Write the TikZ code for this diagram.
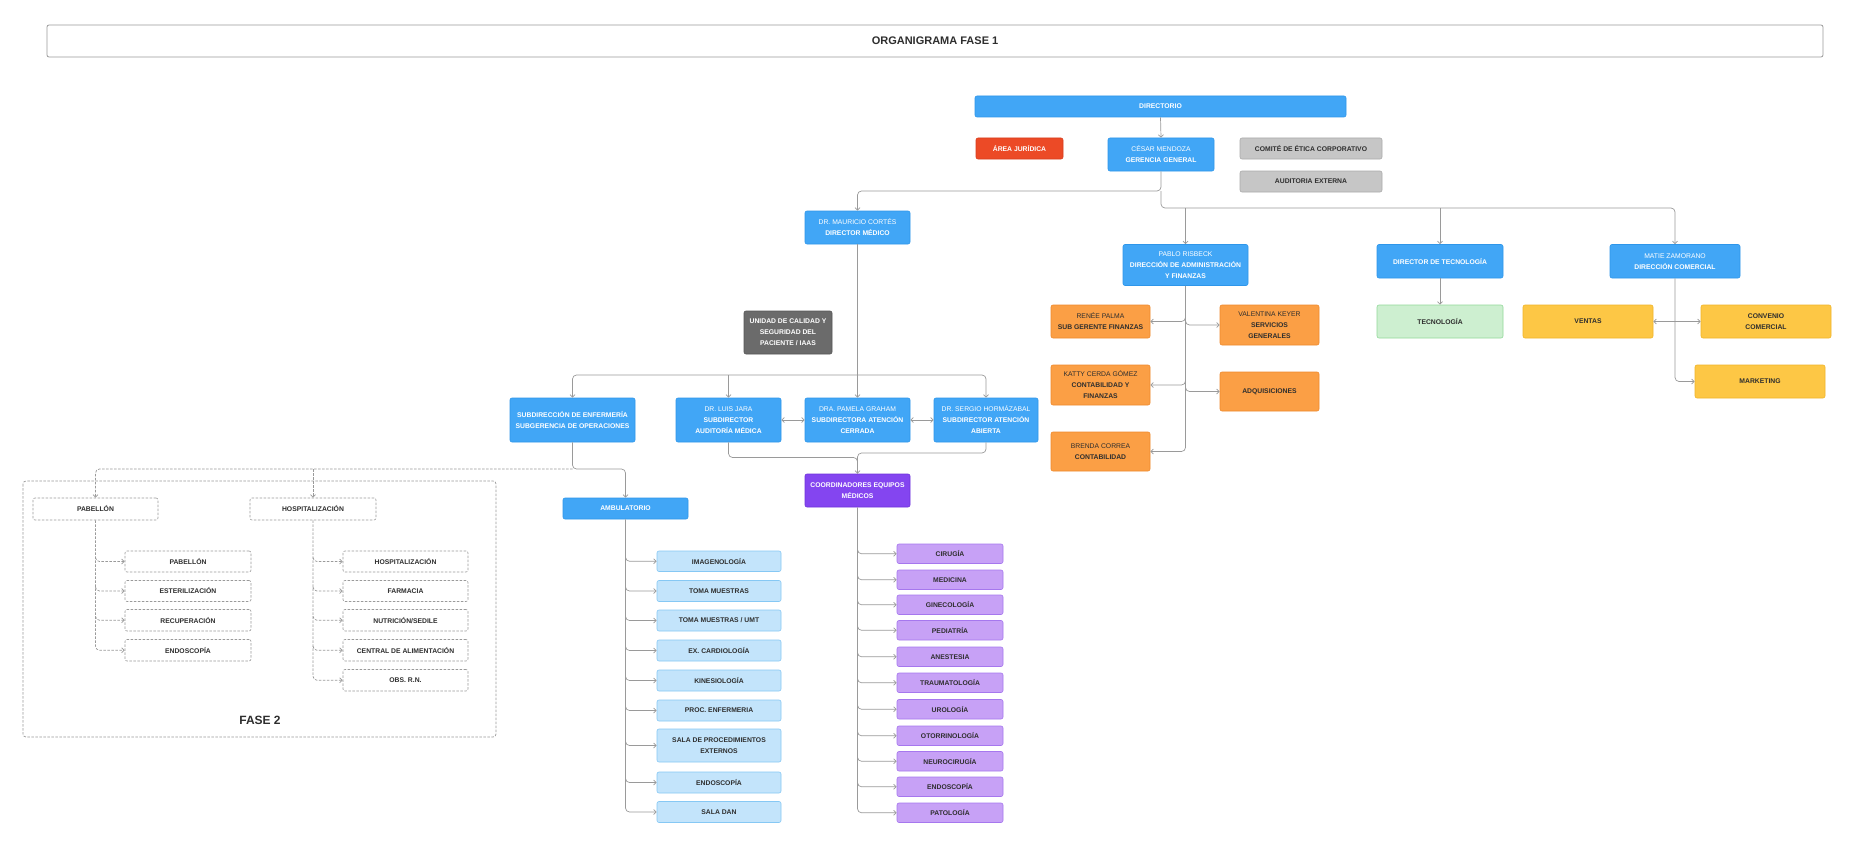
\documentclass[tikz,border=0pt]{standalone}
\usepackage{fontspec}
\setmainfont{Liberation Sans}
\usetikzlibrary{arrows.meta,calc}
\definecolor{bluef}{HTML}{41A6F6}
\definecolor{bluee}{HTML}{2E96EA}
\definecolor{redf}{HTML}{EC4A26}
\definecolor{rede}{HTML}{D83E1E}
\definecolor{grayf}{HTML}{C6C6C6}
\definecolor{graye}{HTML}{ABABAB}
\definecolor{dgrayf}{HTML}{6B6B6B}
\definecolor{dgraye}{HTML}{555555}
\definecolor{orangef}{HTML}{FB9F45}
\definecolor{orangee}{HTML}{EE8A2E}
\definecolor{greenf}{HTML}{CDEFD0}
\definecolor{greene}{HTML}{93D99A}
\definecolor{yellowf}{HTML}{FDC745}
\definecolor{yellowe}{HTML}{F0B52A}
\definecolor{lbluef}{HTML}{C3E4FB}
\definecolor{lbluee}{HTML}{86C8F4}
\definecolor{purplef}{HTML}{8445F0}
\definecolor{purplee}{HTML}{6F33DB}
\definecolor{lpurplef}{HTML}{C7A1F6}
\definecolor{lpurplee}{HTML}{A677EE}
\definecolor{linec}{HTML}{9A9A9A}
\definecolor{darktext}{HTML}{2E2E2E}
\newcommand\bx[7]{%
  \pgfmathsetmacro\bxcx{(#3+#5)/2}\pgfmathsetmacro\bxcy{(#4+#6)/2}%
  \pgfmathsetmacro\bxw{#5-#3}\pgfmathsetmacro\bxh{#6-#4}%
  \node[#1, minimum width=\bxw pt, minimum height=\bxh pt] (#2) at (\bxcx,\bxcy) {#7};}
\begin{document}
\begin{tikzpicture}[x=1pt,y=-1pt,
  >={Straight Barb[length=2.5pt,width=5pt]},
  box/.style={rounded corners=2pt, inner sep=1pt, align=center,
    font=\fontsize{6.8}{11}\selectfont\bfseries, line width=0.6pt},
  bluebox/.style={box, fill=bluef, draw=bluee, text=white},
  redbox/.style={box, fill=redf, draw=rede, text=white},
  graybox/.style={box, fill=grayf, draw=graye, text=darktext},
  dgraybox/.style={box, fill=dgrayf, draw=dgraye, text=white},
  orangebox/.style={box, fill=orangef, draw=orangee, text=darktext},
  greenbox/.style={box, fill=greenf, draw=greene, text=darktext},
  yellowbox/.style={box, fill=yellowf, draw=yellowe, text=darktext},
  lbluebox/.style={box, fill=lbluef, draw=lbluee, text=darktext},
  purplebox/.style={box, fill=purplef, draw=purplee, text=white},
  lpurplebox/.style={box, fill=lpurplef, draw=lpurplee, text=darktext},
  dashbox/.style={box, fill=white, draw=linec, dashed, dash pattern=on 2.5pt off 1.5pt, text=darktext},
  con/.style={draw=linec, line width=0.7pt, rounded corners=4pt, ->},
  dcon/.style={con, dash pattern=on 2.5pt off 1.5pt},
]
\fill[white] (0,0) rectangle (1855,848);
\useasboundingbox (0,0) rectangle (1855,848);

% title
\bx{box, fill=white, draw=linec, line width=0.8pt, font=\fontsize{11}{13}\selectfont\bfseries, text=darktext}{title}{47}{25}{1823}{57}{ORGANIGRAMA FASE 1}

% top level
\bx{bluebox}{dir}{975}{96}{1346}{117}{DIRECTORIO}
\bx{redbox}{jur}{976}{138}{1063}{159}{ÁREA JURÍDICA}
\bx{bluebox}{ger}{1108}{138}{1214}{171}{{\mdseries CÉSAR MENDOZA}\\GERENCIA GENERAL}
\bx{graybox}{etica}{1240}{138}{1382}{159}{COMITÉ DE ÉTICA CORPORATIVO}
\bx{graybox}{audit}{1240}{171}{1382}{192}{AUDITORIA EXTERNA}

\bx{bluebox}{med}{805}{211}{910}{244}{{\mdseries DR. MAURICIO CORTÉS}\\DIRECTOR MÉDICO}
\bx{bluebox}{pablo}{1123}{244.5}{1248}{285.5}{{\mdseries PABLO RISBECK}\\DIRECCIÓN DE ADMINISTRACIÓN\\Y FINANZAS}
\bx{bluebox}{tech}{1377}{244.5}{1503}{278}{DIRECTOR DE TECNOLOGÍA}
\bx{bluebox}{matie}{1610}{244.5}{1740}{278}{{\mdseries MATIE  ZAMORANO}\\DIRECCIÓN COMERCIAL}

\bx{greenbox}{tecno}{1377}{305}{1503}{338}{TECNOLOGÍA}
\bx{yellowbox}{ventas}{1523}{305}{1653}{338}{VENTAS}
\bx{yellowbox}{conv}{1701}{305}{1831}{338}{CONVENIO\\COMERCIAL}
\bx{yellowbox}{mkt}{1695}{365}{1825}{398}{MARKETING}

\bx{orangebox}{renee}{1051}{305}{1150}{338}{{\mdseries RENÉE PALMA}\\SUB GERENTE FINANZAS}
\bx{orangebox}{vale}{1220}{305}{1319}{345}{{\mdseries VALENTINA KEYER}\\SERVICIOS\\GENERALES}
\bx{orangebox}{katty}{1051}{365}{1150}{405}{{\mdseries KATTY CERDA GÓMEZ}\\CONTABILIDAD Y\\FINANZAS}
\bx{orangebox}{adq}{1220}{372}{1319}{411}{ADQUISICIONES}
\bx{orangebox}{brenda}{1051}{432}{1150}{471}{{\mdseries BRENDA CORREA}\\CONTABILIDAD}

% medical area
\bx{dgraybox}{cal}{744}{311}{832}{354}{UNIDAD DE CALIDAD Y\\SEGURIDAD DEL\\PACIENTE / IAAS}
\bx{bluebox}{enf}{510}{398}{635}{442}{SUBDIRECCIÓN DE ENFERMERÍA\\SUBGERENCIA DE OPERACIONES}
\bx{bluebox}{luis}{676}{398}{781}{442}{{\mdseries DR. LUIS JARA}\\SUBDIRECTOR\\AUDITORÍA MÉDICA}
\bx{bluebox}{pamela}{805}{398}{910}{442}{{\mdseries DRA. PAMELA GRAHAM}\\SUBDIRECTORA ATENCIÓN\\CERRADA}
\bx{bluebox}{sergio}{934}{398}{1038}{442}{{\mdseries DR.  SERGIO HORMÁZABAL}\\SUBDIRECTOR ATENCIÓN\\ABIERTA}
\bx{purplebox}{coord}{805}{474}{910}{507}{COORDINADORES EQUIPOS\\MÉDICOS}
\bx{bluebox}{amb}{563}{498}{688}{519}{AMBULATORIO}

% ambulatorio children
\bx{lbluebox}{a1}{657}{551}{781}{571.5}{IMAGENOLOGÍA}
\bx{lbluebox}{a2}{657}{580.5}{781}{601.5}{TOMA MUESTRAS}
\bx{lbluebox}{a3}{657}{610}{781}{631}{TOMA MUESTRAS / UMT}
\bx{lbluebox}{a4}{657}{640}{781}{661}{EX. CARDIOLOGÍA}
\bx{lbluebox}{a5}{657}{670}{781}{691}{KINESIOLOGÍA}
\bx{lbluebox}{a6}{657}{700}{781}{721}{PROC. ENFERMERIA}
\bx{lbluebox}{a7}{657}{729}{781}{762}{SALA DE PROCEDIMIENTOS\\EXTERNOS}
\bx{lbluebox}{a8}{657}{772}{781}{793}{ENDOSCOPÍA}
\bx{lbluebox}{a9}{657}{801.5}{781}{822.5}{SALA DAN}

% coordinadores children
\bx{lpurplebox}{c1}{897}{544}{1003}{563.5}{CIRUGÍA}
\bx{lpurplebox}{c2}{897}{570}{1003}{589.5}{MEDICINA}
\bx{lpurplebox}{c3}{897}{595}{1003}{614.5}{GINECOLOGÍA}
\bx{lpurplebox}{c4}{897}{620.5}{1003}{640}{PEDIATRÍA}
\bx{lpurplebox}{c5}{897}{647}{1003}{666.5}{ANESTESIA}
\bx{lpurplebox}{c6}{897}{673}{1003}{692.5}{TRAUMATOLOGÍA}
\bx{lpurplebox}{c7}{897}{699.5}{1003}{719}{UROLOGÍA}
\bx{lpurplebox}{c8}{897}{726}{1003}{745.5}{OTORRINOLOGÍA}
\bx{lpurplebox}{c9}{897}{751.5}{1003}{771}{NEUROCIRUGÍA}
\bx{lpurplebox}{c10}{897}{777}{1003}{796.5}{ENDOSCOPÍA}
\bx{lpurplebox}{c11}{897}{803}{1003}{822.5}{PATOLOGÍA}

% fase 2
\draw[draw=linec, line width=0.7pt, dash pattern=on 2.5pt off 1.5pt, rounded corners=3pt] (23,481) rectangle (496,737);
\node[font=\fontsize{12}{14}\selectfont\bfseries, text=darktext] (fase2) at (260,720) {FASE 2};
\bx{dashbox}{pab}{33}{498}{158}{520}{PABELLÓN}
\bx{dashbox}{hosp}{250}{498}{376}{520}{HOSPITALIZACIÓN}
\bx{dashbox}{p1}{125}{551}{251}{572}{PABELLÓN}
\bx{dashbox}{p2}{125}{580.5}{251}{601.5}{ESTERILIZACIÓN}
\bx{dashbox}{p3}{125}{609.5}{251}{631}{RECUPERACIÓN}
\bx{dashbox}{p4}{125}{639.5}{251}{661}{ENDOSCOPÍA}
\bx{dashbox}{h1}{343}{551}{468}{572}{HOSPITALIZACIÓN}
\bx{dashbox}{h2}{343}{580.5}{468}{601.5}{FARMACIA}
\bx{dashbox}{h3}{343}{609.5}{468}{631}{NUTRICIÓN/SEDILE}
\bx{dashbox}{h4}{343}{639.5}{468}{661}{CENTRAL DE ALIMENTACIÓN}
\bx{dashbox}{h5}{343}{669.5}{468}{691}{OBS. R.N.}

% ---------- connectors ----------
\draw[con] (dir.south) -- (ger.north);
\coordinate (jA) at (1161,191);
\coordinate (jB) at (1161,208);
\draw[con] (ger.south) -- (jA) -| (med.north);
\draw[con] (jA) -- (jB) -| (matie.north);
\draw[con] (pablo.north |- jB) -- (pablo.north);
\draw[con] (tech.north |- jB) -- (tech.north);
\draw[con] (tech.south) -- (tecno.north);

% matie
\draw[con] (matie.south) |- (mkt.west);
\draw[con,<->] (ventas.east) -- (conv.west);

% pablo
\draw[con] (pablo.south) |- (brenda.east);
\foreach \n in {renee,katty}{
  \draw[con] ([yshift=5pt]\n.east -| pablo.south) |- (\n.east);
}
\foreach \n in {vale,adq}{
  \draw[con] ([yshift=5pt]\n.west -| pablo.south) |- (\n.west);
}

% medical
\coordinate (jM) at (857.5,375);
\draw[con,-] (med.south) -- (jM);
\draw[con] (jM) -| (enf.north);
\draw[con] (jM) -| (sergio.north);
\draw[con] (jM) -- (pamela.north);
\draw[con] (luis.north |- jM) -- (luis.north);
\draw[con,<->] (luis.east) -- (pamela.west);
\draw[con,<->] (pamela.east) -- (sergio.west);

\coordinate (jC1) at (857.5,457.5);
\coordinate (jC2) at (857.5,453);
\draw[con] (luis.south) |- (jC1) -- (coord.north);
\draw[con,-] (sergio.south) |- (jC2) -- (coord.north);

% enfermeria
\coordinate (jE) at (572.5,469);
\draw[con] (enf.south) -- (jE) -| (amb.north);
\draw[dcon] (jE) -| (pab.north);
\draw[dcon] (hosp.north |- jE) -- (hosp.north);

% ambulatorio
\draw[con] (amb.south) |- (a9.west);
\foreach \n in {a1,a2,a3,a4,a5,a6,a7,a8}{
  \draw[con] ([yshift=5pt]\n.west -| amb.south) |- (\n.west);
}

% coordinadores
\draw[con] (coord.south) |- (c11.west);
\foreach \n in {c1,c2,c3,c4,c5,c6,c7,c8,c9,c10}{
  \draw[con] ([yshift=5pt]\n.west -| coord.south) |- (\n.west);
}

% fase 2 trunks
\draw[dcon] (pab.south) |- (p4.west);
\foreach \n in {p1,p2,p3}{
  \draw[dcon] ([yshift=4pt]\n.west -| pab.south) |- (\n.west);
}
\draw[dcon] (hosp.south) |- (h5.west);
\foreach \n in {h1,h2,h3,h4}{
  \draw[dcon] ([yshift=4pt]\n.west -| hosp.south) |- (\n.west);
}
\end{tikzpicture}
\end{document}
